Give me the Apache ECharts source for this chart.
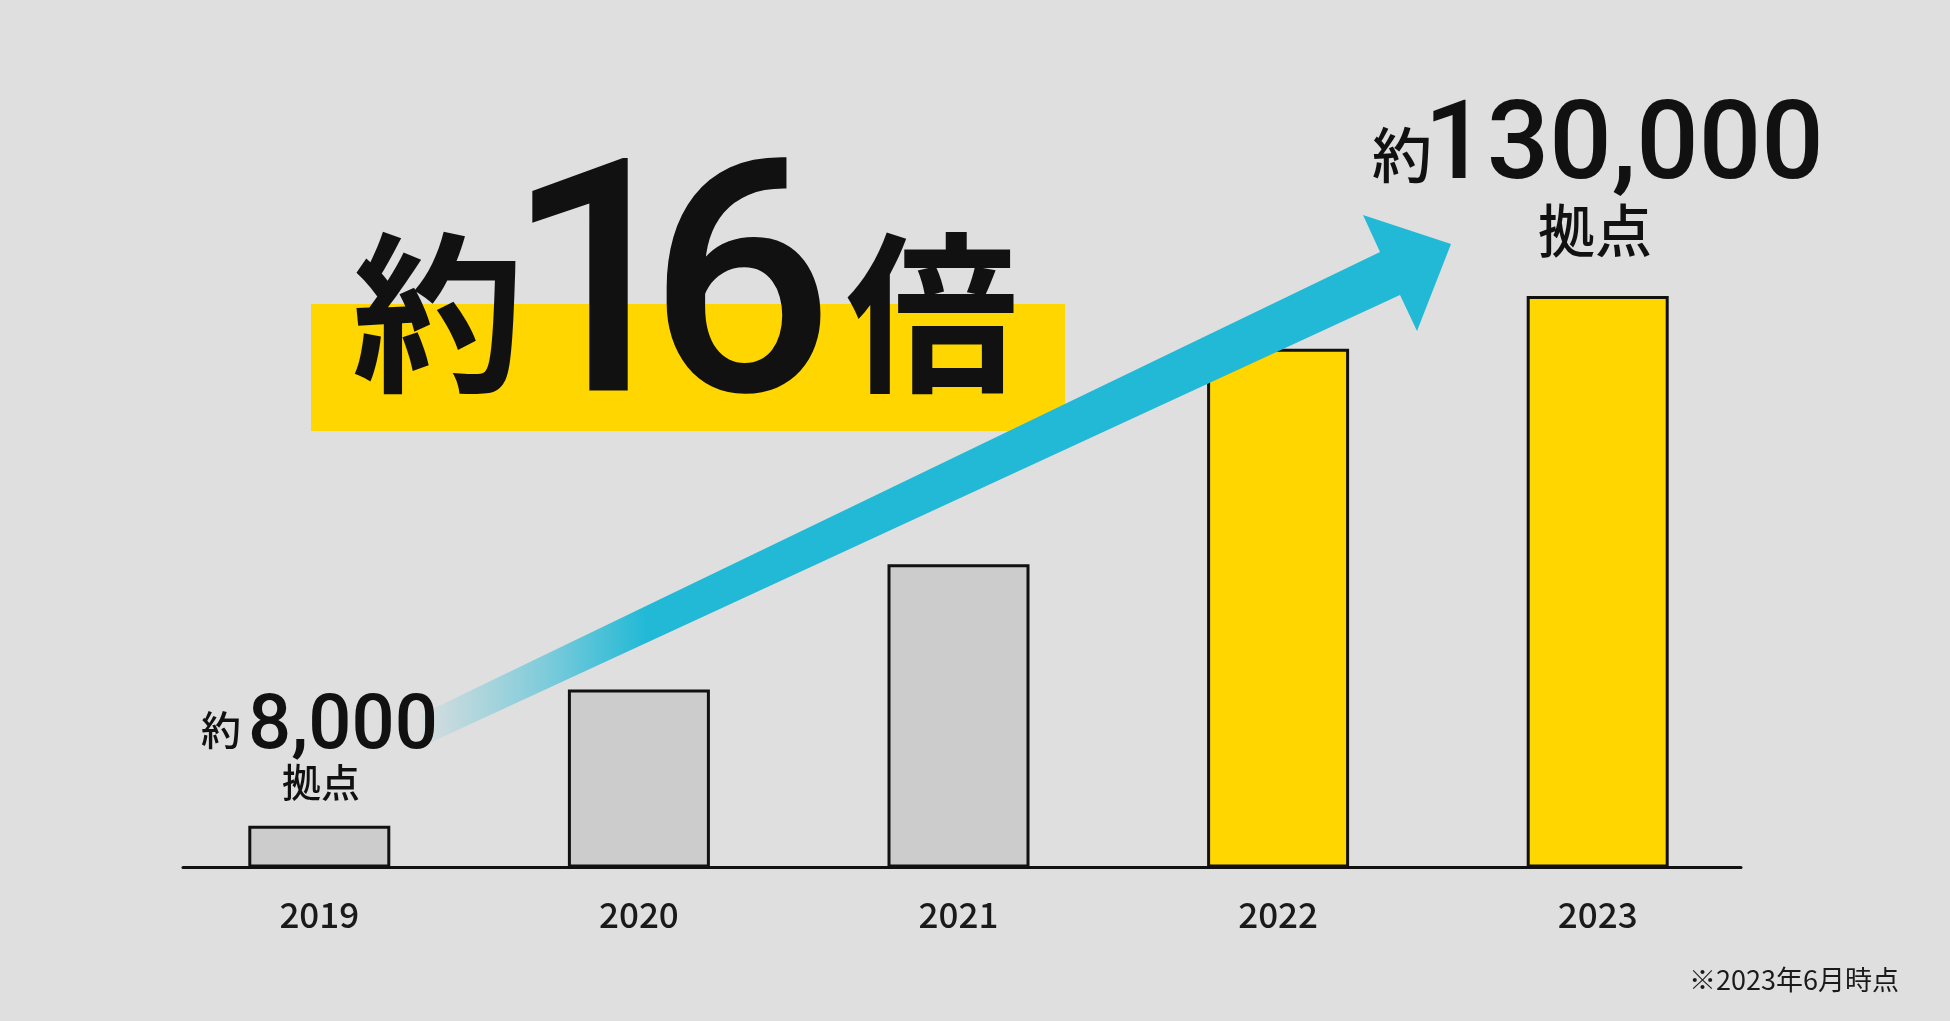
<!DOCTYPE html>
<html>
<head>
<meta charset="utf-8">
<script src="https://cdn.jsdelivr.net/npm/echarts@6/dist/echarts.min.js"></script>
<style>
  html, body { margin: 0; padding: 0; background: #dfdfdf; }
  #chart { width: 1950px; height: 1021px; }
</style>
</head>
<body>
<div id="chart"></div>
<script>
// ---- data ----
const categories = ['2019', '2020', '2021', '2022', '2023'];
const values = [9500, 40500, 69000, 118000, 130000];
const highlighted = ['2022', '2023'];
const firstLabel = { prefix: '約', number: '8,000', unit: '拠点' };
const lastLabel = { prefix: '約', number: '130,000', unit: '拠点' };
const headline = { prefix: '約', number: '16', suffix: '倍' };
const footnote = '※2023年6月時点';

const JP = '"Noto Sans CJK JP", "Noto Sans", sans-serif';
const NUM = 'Roboto, "Noto Sans", sans-serif';
const GRAY = '#cccccc', YELLOW = '#ffd600', INK = '#111111', CYAN = '33,185,214';

const chart = echarts.init(document.getElementById('chart'), null, { renderer: 'canvas' });

const barData = categories.map((c, i) => ({
  value: values[i],
  itemStyle: { color: highlighted.includes(c) ? YELLOW : GRAY }
}));

function txt(text, x, y, size, weight, family, align) {
  return {
    type: 'text', x: x, y: y, z: 20,
    style: {
      text: text, fill: INK, fontFamily: family || JP, fontSize: size, fontWeight: weight,
      align: align || 'center', verticalAlign: 'middle'
    }
  };
}

// headline digits are placed one by one (tight spacing)
const headlineDigitX = [598, 741];
const headlineDigits = headline.number.split('').map((d, i) => txt(d, headlineDigitX[i], 309, 326, 500, NUM));

const option = {
  backgroundColor: '#dfdfdf',
  animation: false,
  grid: [
    { left: 159.5, right: 192.5, top: 208, bottom: 153.5 },
    { left: 183, right: 209, top: 208, bottom: 153.5 }
  ],
  xAxis: [
    {
      type: 'category', data: categories, gridIndex: 0,
      axisLine: { show: false }, axisTick: { show: false },
      axisLabel: { color: '#1a1a1a', fontFamily: JP, fontSize: 35, fontWeight: 500, margin: 30 }
    },
    {
      type: 'category', data: categories, gridIndex: 1,
      axisLine: { show: true, lineStyle: { color: INK, width: 3 } },
      axisTick: { show: false }, axisLabel: { show: false }
    }
  ],
  yAxis: [
    { type: 'value', gridIndex: 0, min: 0, max: 150000, show: false, splitLine: { show: false } },
    { type: 'value', gridIndex: 1, min: 0, max: 150000, show: false, splitLine: { show: false } }
  ],
  series: [{
    type: 'bar', xAxisIndex: 0, yAxisIndex: 0, data: barData,
    barWidth: 142, z: 3,
    itemStyle: { borderColor: INK, borderWidth: 3 }
  }],
  graphic: [
    // headline highlight band
    { type: 'rect', z: 1, shape: { x: 311, y: 304, width: 754, height: 127 }, style: { fill: YELLOW } },
    txt(headline.prefix, 438, 313, 172, 'bold'),
    ...headlineDigits,
    txt(headline.suffix, 932, 313, 172, 'bold'),
    // growth arrow
    {
      type: 'polygon', z: 10,
      shape: { points: [[420, 715], [1380, 252], [1363, 215], [1451, 244], [1417, 331], [1400, 295], [423, 746]] },
      style: {
        fill: {
          type: 'linear', x: 0, y: 0, x2: 1, y2: 0,
          colorStops: [
            { offset: 0, color: 'rgba(' + CYAN + ',0.03)' },
            { offset: 0.12, color: 'rgba(' + CYAN + ',0.5)' },
            { offset: 0.22, color: 'rgba(' + CYAN + ',1)' },
            { offset: 1, color: 'rgba(' + CYAN + ',1)' }
          ]
        }
      }
    },
    // first bar annotation
    txt(firstLabel.prefix, 221, 730, 40, 500),
    txt(firstLabel.number, 343, 729, 76, 500, NUM),
    txt(firstLabel.unit, 321, 782, 39, 500),
    // last bar annotation
    txt(lastLabel.prefix, 1402, 155, 60, 500),
    txt(lastLabel.number, 1624, 150, 110, 500, NUM),
    txt(lastLabel.unit, 1595, 230, 57, 500),
    // footnote
    {
      type: 'text', x: 1899, y: 980, z: 20,
      style: { text: footnote, fill: '#1a1a1a', fontFamily: JP, fontSize: 27, fontWeight: 'normal', align: 'right', verticalAlign: 'middle' }
    }
  ]
};
chart.setOption(option);
</script>
</body>
</html>
